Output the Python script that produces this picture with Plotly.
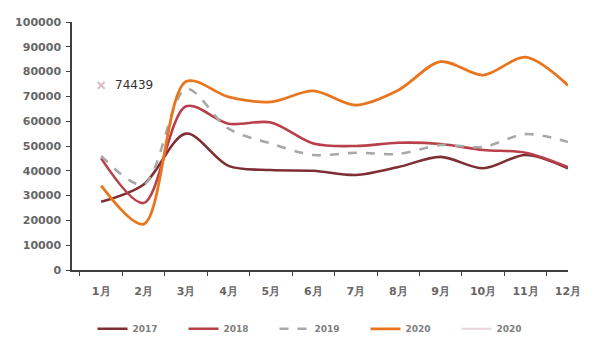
import plotly.graph_objects as go

months = ["1月", "2月", "3月", "4月", "5月", "6月", "7月", "8月", "9月", "10月", "11月", "12月"]
y2017 = [27500, 34500, 55000, 42000, 40300, 40000, 38300, 41500, 45600, 41000, 46400, 41000]
y2018 = [45000, 27000, 66000, 59000, 59500, 51000, 50000, 51300, 50800, 48400, 47300, 41500]
y2019 = [46000, 34500, 73000, 57000, 51000, 46400, 47300, 46800, 50400, 49600, 54800, 51600]
y2020 = [34000, 18500, 76000, 69800, 67800, 72200, 66500, 72500, 84000, 78600, 85800, 74439]
point_month = ["1月"]
point_value = [74439]
yticks = list(range(0, 100001, 10000))

fig = go.Figure()
fig.add_trace(go.Scatter(x=months, y=y2017, name="2017", mode="lines",
                         line=dict(color="#7E2F34", width=2.6, shape="spline", smoothing=0.9)))
fig.add_trace(go.Scatter(x=months, y=y2018, name="2018", mode="lines",
                         line=dict(color="#B9404A", width=2.6, shape="spline", smoothing=0.9)))
fig.add_trace(go.Scatter(x=months, y=y2019, name="2019", mode="lines",
                         line=dict(color="#A8A8A8", width=2.6, dash="dash", shape="spline", smoothing=0.9)))
fig.add_trace(go.Scatter(x=months, y=y2020, name="2020", mode="lines",
                         line=dict(color="#E8761E", width=2.8, shape="spline", smoothing=0.9)))
fig.add_trace(go.Scatter(x=point_month, y=point_value, name="2020", mode="markers",
                         showlegend=False,
                         marker=dict(symbol="x-thin", size=7, color="#D9B8C4",
                                     line=dict(width=2, color="#D9B8C4"))))
# legend entry for the single-point series (pale line sample)
fig.add_trace(go.Scatter(x=[None], y=[None], name="2020", mode="lines",
                         line=dict(color="#EBD3DC", width=2)))

for m, v in zip(point_month, point_value):
    fig.add_annotation(x=m, y=v, text=str(v), showarrow=False, xanchor="left",
                       xshift=12, font=dict(size=12, color="#333333", family="DejaVu Sans"))

fig.update_layout(
    width=600, height=347,
    margin=dict(l=72, r=32, t=22, b=77, autoexpand=False),
    paper_bgcolor="white", plot_bgcolor="white",
    font=dict(family="DejaVu Sans", color="#595959"),
    showlegend=True,
    legend=dict(orientation="h", x=0.5, xanchor="center", y=-0.237, yanchor="middle",
                font=dict(size=9, color="#808080", family="DejaVu Sans", weight="bold"),
                entrywidth=46, entrywidthmode="pixels", tracegroupgap=0),
    xaxis=dict(showline=True, linecolor="#404040", linewidth=1.5, ticks="outside",
               tickcolor="#404040", ticklen=4, tickson="boundaries", showgrid=False,
               ticklabelstandoff=10,
               tickfont=dict(size=11, color="#666666", family="DejaVu Sans", weight="bold")),
    yaxis=dict(range=[0, 100000], tickvals=yticks, ticktext=[str(v) for v in yticks],
               showline=True, linecolor="#404040", linewidth=1.5, ticks="outside",
               tickcolor="#404040", ticklen=4, showgrid=False, zeroline=False,
               ticklabelstandoff=3,
               tickfont=dict(size=11, color="#666666", family="DejaVu Sans", weight="bold")),
)
fig.write_html("out.html")
